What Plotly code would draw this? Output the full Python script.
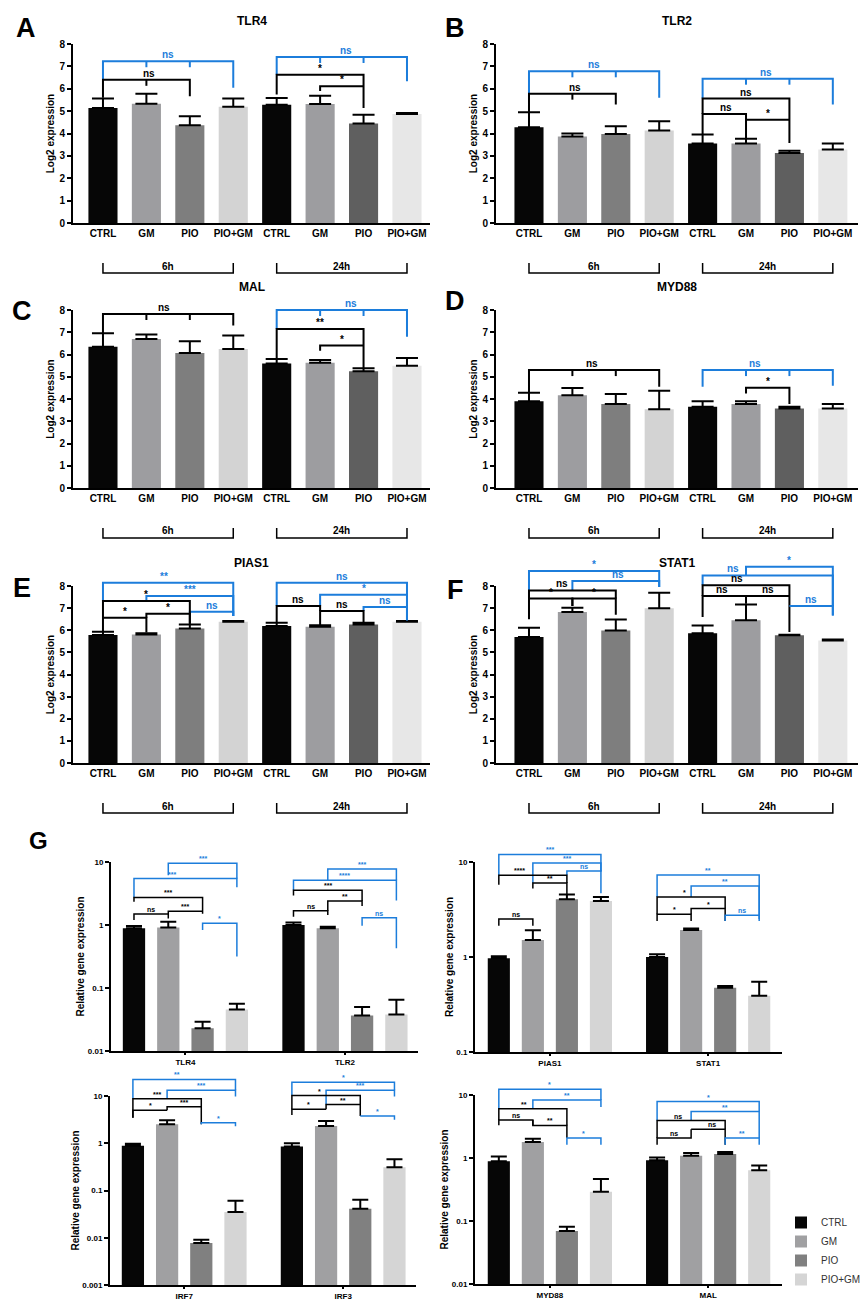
import plotly.graph_objects as go

W, H = 868, 1300
FONT = "Arial, 'Liberation Sans', sans-serif"
BLUE = "#1c7ddb"

treatments = ["CTRL", "GM", "PIO", "PIO+GM"]
timepoints = ["6h", "24h"]

# panels A-F: log2 expression, 4 treatments at 6h then 4 at 24h (mean, upper SD)
tlr4_log2 = [5.14, 5.33, 4.37, 5.19, 5.29, 5.32, 4.45, 4.87]
tlr4_sd = [0.42, 0.45, 0.40, 0.37, 0.30, 0.37, 0.39, 0.05]
tlr2_log2 = [4.28, 3.87, 3.98, 4.13, 3.55, 3.55, 3.13, 3.28]
tlr2_sd = [0.67, 0.13, 0.34, 0.42, 0.40, 0.22, 0.10, 0.27]
mal_log2 = [6.35, 6.70, 6.07, 6.25, 5.60, 5.63, 5.25, 5.50]
mal_sd = [0.60, 0.20, 0.53, 0.60, 0.20, 0.12, 0.13, 0.34]
myd88_log2 = [3.90, 4.17, 3.77, 3.54, 3.65, 3.78, 3.57, 3.57]
myd88_sd = [0.38, 0.33, 0.45, 0.83, 0.25, 0.12, 0.08, 0.20]
pias1_log2 = [5.78, 5.81, 6.08, 6.38, 6.19, 6.16, 6.26, 6.38]
pias1_sd = [0.15, 0.05, 0.18, 0.04, 0.15, 0.07, 0.08, 0.04]
stat1_log2 = [5.69, 6.82, 5.99, 7.00, 5.87, 6.45, 5.77, 5.54]
stat1_sd = [0.42, 0.20, 0.50, 0.70, 0.35, 0.71, 0.03, 0.04]

# panel G: relative gene expression (mean, upper SD), CTRL / GM / PIO / PIO+GM
rel_tlr4 = [0.885, 0.91, 0.023, 0.0455]
rel_tlr4_sd = [0.075, 0.22, 0.006, 0.0105]
rel_tlr2 = [1.0, 0.885, 0.0366, 0.038]
rel_tlr2_sd = [0.10, 0.055, 0.0134, 0.027]
rel_pias1 = [0.97, 1.51, 4.05, 3.88]
rel_pias1_sd = [0.05, 0.40, 0.51, 0.40]
rel_stat1 = [1.0, 1.92, 0.475, 0.39]
rel_stat1_sd = [0.07, 0.08, 0.02, 0.16]
rel_irf7 = [0.88, 2.51, 0.0077, 0.035]
rel_irf7_sd = [0.10, 0.54, 0.0014, 0.026]
rel_irf3 = [0.85, 2.32, 0.041, 0.31]
rel_irf3_sd = [0.15, 0.63, 0.023, 0.15]
rel_myd88 = [0.886, 1.79, 0.0695, 0.29]
rel_myd88_sd = [0.174, 0.23, 0.0115, 0.176]
rel_mal = [0.92, 1.09, 1.16, 0.64]
rel_mal_sd = [0.10, 0.11, 0.08, 0.12]

time_colors = ["#060606", "#9d9da0", "#7e7e7e", "#d3d3d3",
               "#060606", "#9d9da0", "#5f5f5f", "#e7e7e7"]
g_colors = ["#060606", "#a0a0a2", "#808080", "#d5d5d5"]

# significance brackets: (colour, from, to, level, left end, right end, label, label x, mid ticks)
# levels in axis units (log10 for panel G)
brackets_a = [("b", 0, 3, 7.23, 6.4, 6.04, "ns", 1.5, [1, 2]),
              ("k", 0, 2, 6.4, 5.6, 5.66, "ns", 1.05, [1]),
              ("b", 4, 7, 7.42, 6.63, 6.33, "ns", 5.6, [5, 6]),
              ("k", 4, 6, 6.63, 5.74, 5.14, "*", 5.0, []),
              ("k", 5, 6, 6.11, 5.9, 6.11, "*", 5.5, [])]
brackets_b = [("b", 0, 3, 6.78, 5.78, 5.6, "ns", 1.5, [1, 2]),
              ("k", 0, 2, 5.78, 4.95, 5.3, "ns", 1.05, [1]),
              ("b", 4, 7, 6.45, 5.56, 5.3, "ns", 5.45, [5, 6]),
              ("k", 4, 6, 5.56, 4.87, 3.58, "ns", 5.0, []),
              ("k", 4, 5, 4.87, 3.95, 3.8, "ns", 4.55, []),
              ("k", 5, 6, 4.62, 4.62, 4.62, "*", 5.5, [])]
brackets_c = [("k", 0, 3, 7.82, 6.95, 7.3, "ns", 1.4, [1, 2]),
              ("b", 4, 7, 8.0, 7.15, 6.8, "ns", 5.7, [5, 6]),
              ("k", 4, 6, 7.15, 5.8, 5.38, "**", 5.0, []),
              ("k", 5, 6, 6.4, 6.17, 6.4, "*", 5.5, [])]
brackets_d = [("k", 0, 3, 5.3, 4.28, 4.55, "ns", 1.45, [1, 2]),
              ("b", 4, 7, 5.3, 4.55, 4.6, "ns", 5.2, [5, 6]),
              ("k", 5, 6, 4.5, 4.25, 3.77, "*", 5.5, [])]
brackets_e = [("b", 0, 3, 8.15, 7.32, 6.64, "**", 1.4, []),
              ("b", 1, 3, 7.55, 7.32, 6.64, "***", 2.0, []),
              ("b", 2, 3, 6.84, 6.75, 6.64, "ns", 2.5, []),
              ("k", 0, 2, 7.32, 6.57, 6.26, "*", 1.0, []),
              ("k", 0, 1, 6.57, 5.96, 5.9, "*", 0.5, []),
              ("k", 1, 2, 6.75, 6.57, 6.3, "*", 1.5, []),
              ("b", 4, 7, 8.15, 7.1, 6.45, "ns", 5.5, []),
              ("b", 5, 7, 7.6, 7.1, 6.45, "*", 6.0, []),
              ("b", 6, 7, 7.05, 6.87, 6.45, "ns", 6.5, []),
              ("k", 4, 5, 7.1, 6.34, 6.87, "ns", 4.5, []),
              ("k", 5, 6, 6.87, 6.23, 6.34, "ns", 5.5, [])]
brackets_f = [("b", 0, 3, 8.68, 7.8, 7.95, "*", 1.5, []),
              ("b", 1, 3, 8.23, 7.8, 7.95, "ns", 2.05, []),
              ("k", 0, 2, 7.8, 7.43, 7.43, "ns", 0.76, []),
              ("k", 0, 1, 7.43, 6.5, 7.1, "*", 0.5, []),
              ("k", 1, 2, 7.43, 7.1, 6.7, "*", 1.5, []),
              ("b", 5, 7, 8.87, 8.48, 6.67, "*", 6.0, []),
              ("b", 4, 7, 8.48, 8.03, 7.1, "ns", 4.7, []),
              ("k", 4, 6, 8.03, 7.55, 5.92, "ns", 4.8, []),
              ("k", 4, 5, 7.55, 6.6, 7.55, "ns", 4.45, []),
              ("k", 5, 6, 7.55, 7.2, 7.55, "ns", 5.5, []),
              ("b", 6, 7, 7.1, 7.1, 6.67, "ns", 6.5, [])]
brackets_g1 = [("b", 1, 3, 0.98, 0.79, 0.74, "***", 2.0, []),
               ("b", 0, 3, 0.737, 0.437, 0.6, "***", 1.1, []),
               ("k", 0, 2, 0.437, 0.37, 0.18, "***", 1.0, []),
               ("k", 1, 2, 0.22, 0.174, 0.22, "***", 1.5, []),
               ("k", 0, 1, 0.174, 0.08, 0.105, "ns", 0.5, []),
               ("b", 2, 3, 0.026, -0.08, -0.5, "*", 2.5, []),
               ("b", 5, 7, 0.89, 0.71, 0.71, "***", 6.0, []),
               ("b", 4, 7, 0.71, 0.55, 0.39, "****", 5.5, []),
               ("k", 4, 6, 0.55, 0.47, 0.38, "***", 5.0, []),
               ("k", 5, 6, 0.38, 0.226, 0.3, "**", 5.5, []),
               ("k", 4, 5, 0.226, 0.13, 0.16, "ns", 4.5, []),
               ("b", 6, 7, 0.116, -0.01, -0.37, "ns", 6.5, [])]
brackets_g2 = [("b", 0, 3, 1.08, 0.86, 0.9, "***", 1.5, []),
               ("b", 1, 3, 0.99, 0.78, 0.9, "***", 2.0, []),
               ("b", 2, 3, 0.905, 0.86, 0.67, "ns", 2.5, []),
               ("k", 0, 2, 0.86, 0.76, 0.78, "****", 0.6, []),
               ("k", 1, 2, 0.78, 0.72, 0.65, "**", 1.5, []),
               ("k", 0, 1, 0.4, 0.33, 0.33, "ns", 0.5, []),
               ("b", 4, 7, 0.863, 0.632, 0.4, "**", 5.5, []),
               ("b", 5, 7, 0.747, 0.632, 0.44, "**", 6.0, []),
               ("k", 4, 6, 0.632, 0.45, 0.51, "*", 4.8, []),
               ("k", 4, 5, 0.45, 0.38, 0.38, "*", 4.5, []),
               ("k", 5, 6, 0.51, 0.45, 0.38, "*", 5.5, []),
               ("b", 6, 7, 0.44, 0.38, 0.38, "ns", 6.5, [])]
brackets_g3 = [("b", 0, 3, 1.35, 0.94, 1.12, "**", 1.3, []),
               ("b", 1, 3, 1.12, 0.94, 0.99, "***", 2.0, []),
               ("k", 0, 2, 0.94, 0.54, 0.77, "***", 0.7, []),
               ("k", 1, 2, 0.77, 0.7, 0.4, "***", 1.5, []),
               ("k", 0, 1, 0.7, 0.54, 0.7, "*", 0.5, []),
               ("b", 2, 3, 0.435, 0.4, 0.36, "*", 2.5, []),
               ("b", 4, 7, 1.29, 1.01, 1.12, "*", 5.5, []),
               ("b", 5, 7, 1.12, 0.82, 0.99, "***", 6.0, []),
               ("k", 4, 6, 1.01, 0.72, 0.82, "*", 4.8, []),
               ("k", 5, 6, 0.82, 0.72, 0.575, "**", 5.5, []),
               ("k", 4, 5, 0.72, 0.6, 0.72, "*", 4.5, []),
               ("b", 6, 7, 0.575, 0.575, 0.5, "*", 6.5, [])]
brackets_g4 = [("b", 0, 3, 1.09, 0.78, 0.92, "*", 1.5, []),
               ("b", 1, 3, 0.92, 0.78, 0.81, "**", 2.0, []),
               ("k", 0, 2, 0.78, 0.605, 0.516, "**", 0.75, []),
               ("k", 0, 1, 0.605, 0.52, 0.516, "ns", 0.5, []),
               ("k", 1, 2, 0.516, 0.605, 0.316, "**", 1.5, []),
               ("b", 2, 3, 0.316, 0.21, 0.21, "*", 2.5, []),
               ("b", 4, 7, 0.895, 0.595, 0.737, "*", 5.5, []),
               ("b", 5, 7, 0.737, 0.595, 0.316, "**", 6.0, []),
               ("k", 4, 6, 0.595, 0.316, 0.458, "ns", 4.6, []),
               ("k", 4, 5, 0.316, 0.21, 0.458, "ns", 4.5, []),
               ("k", 5, 6, 0.458, 0.458, 0.21, "ns", 5.6, []),
               ("b", 6, 7, 0.316, 0.21, 0.21, "**", 6.5, [])]


def time_pos(i):
    return i


def group_pos(i):
    # second gene of a pair sits a bit further right
    return i + 0.65 if i >= 4 else i


left_col = dict(xpx=(65, 422), xrange=(-0.69, 7.53))
right_col = dict(xpx=(488, 850), xrange=(-0.76, 7.58))

panels_top = [
    dict(left_col, letter="A", gene="TLR4", mean=tlr4_log2, sd=tlr4_sd, ypx=(36, 215), br=brackets_a, lpos=(18, 20)),
    dict(right_col, letter="B", gene="TLR2", mean=tlr2_log2, sd=tlr2_sd, ypx=(36, 215), br=brackets_b, lpos=(447, 20)),
    dict(left_col, letter="C", gene="MAL", mean=mal_log2, sd=mal_sd, ypx=(302, 480), br=brackets_c, lpos=(14, 303)),
    dict(right_col, letter="D", gene="MYD88", mean=myd88_log2, sd=myd88_sd, ypx=(302, 480), br=brackets_d, lpos=(447, 293)),
    dict(left_col, letter="E", gene="PIAS1", mean=pias1_log2, sd=pias1_sd, ypx=(578, 755), br=brackets_e, lpos=(14, 580)),
    dict(right_col, letter="F", gene="STAT1", mean=stat1_log2, sd=stat1_sd, ypx=(578, 755), br=brackets_f, lpos=(447, 582)),
]
panels_g = [
    dict(xpx=(103, 410), xrange=(-0.67, 8.28), ypx=(854, 1043), yrange=(-2, 1),
         genes=["TLR4", "TLR2"], vals=[(rel_tlr4, rel_tlr4_sd), (rel_tlr2, rel_tlr2_sd)], br=brackets_g1),
    dict(xpx=(467, 774), xrange=(-0.7, 8.32), ypx=(854, 1044), yrange=(-1, 1),
         genes=["PIAS1", "STAT1"], vals=[(rel_pias1, rel_pias1_sd), (rel_stat1, rel_stat1_sd)], br=brackets_g2),
    dict(xpx=(102, 408), xrange=(-0.67, 8.28), ypx=(1088, 1277), yrange=(-3, 1),
         genes=["IRF7", "IRF3"], vals=[(rel_irf7, rel_irf7_sd), (rel_irf3, rel_irf3_sd)], br=brackets_g3),
    dict(xpx=(467, 774), xrange=(-0.7, 8.32), ypx=(1087, 1276), yrange=(-2, 1),
         genes=["MYD88", "MAL"], vals=[(rel_myd88, rel_myd88_sd), (rel_mal, rel_mal_sd)], br=brackets_g4),
]
for p in panels_top:
    p["yrange"] = (0, 8)
    p["pos"] = time_pos
for p in panels_g:
    p["pos"] = group_pos

fig = go.Figure()
shapes = []
annotations = []


def to_px(p, x, y):
    (x0, x1), (r0, r1) = p["xpx"], p["xrange"]
    (yt, yb), (s0, s1) = p["ypx"], p["yrange"]
    return (x0 + (x - r0) / (r1 - r0) * (x1 - x0),
            yb - (y - s0) / (s1 - s0) * (yb - yt))


def px(x):
    return x / W


def py(y):
    return 1 - y / H


def add_text(text, x, y, size, color="black", bold=True, xanchor="center", yanchor="middle"):
    annotations.append(dict(text=text, x=px(x), y=py(y), xref="paper", yref="paper",
                            xanchor=xanchor, yanchor=yanchor, showarrow=False,
                            font=dict(family=FONT, size=size, color=color, weight=700 if bold else 400)))


def add_path(points, color, width):
    path = "M" + " L".join("{:.5f},{:.5f}".format(px(a), py(b)) for a, b in points)
    shapes.append(dict(type="path", xref="paper", yref="paper", path=path,
                       line=dict(color=color, width=width)))


def add_bracket(p, spec, lw, size, tick):
    col, i0, i1, y, yl, yr, label, lx, mids = spec
    c = BLUE if col == "b" else "black"
    xa, ya = to_px(p, p["pos"](i0), y)
    xb, _ = to_px(p, p["pos"](i1), y)
    _, yla = to_px(p, 0, yl)
    _, yrb = to_px(p, 0, yr)
    add_path([(xa, yla), (xa, ya), (xb, ya), (xb, yrb)], c, lw)
    for m in mids:
        xm, _ = to_px(p, p["pos"](m), y)
        add_path([(xm, ya), (xm, ya + tick)], c, lw)
    xt, _ = to_px(p, p["pos"](lx), y)
    add_text(label, xt, ya + 1, size, c, yanchor="bottom")


axis_font = dict(family=FONT, size=10, color="black", weight=700)
layout_axes = {}

for k, p in enumerate(panels_top, start=1):
    xname = "x" if k == 1 else "x%d" % k
    yname = "y" if k == 1 else "y%d" % k
    fig.add_trace(go.Bar(
        x=[p["pos"](i) for i in range(8)], y=p["mean"], width=0.67,
        marker=dict(color=time_colors, line=dict(width=0)),
        error_y=dict(type="data", array=p["sd"], arrayminus=[0] * 8, symmetric=False,
                     color="black", thickness=2, width=11),
        xaxis=xname, yaxis=yname, showlegend=False, hoverinfo="skip"))
    layout_axes["xaxis" if k == 1 else "xaxis%d" % k] = dict(
        domain=[px(p["xpx"][0]), px(p["xpx"][1])], range=list(p["xrange"]), anchor=yname,
        tickvals=list(range(8)), ticktext=treatments * 2, ticks="", showline=True,
        linecolor="black", linewidth=2, showgrid=False, zeroline=False,
        tickfont=axis_font, automargin=False, fixedrange=True)
    layout_axes["yaxis" if k == 1 else "yaxis%d" % k] = dict(
        domain=[py(p["ypx"][1]), py(p["ypx"][0])], range=list(p["yrange"]), anchor=xname,
        dtick=1, ticks="outside", ticklen=4, tickwidth=2, tickcolor="black",
        showline=True, linecolor="black", linewidth=2, showgrid=False, zeroline=False,
        tickfont=axis_font, automargin=False, fixedrange=True,
        title=dict(text="Log2 expression", font=axis_font, standoff=3))
    # gene title and panel letter
    add_text(p["gene"], (p["xpx"][0] + p["xpx"][1]) / 2, p["ypx"][0] - 23, 12)
    add_text(p["letter"], p["lpos"][0], p["lpos"][1], 27)
    # 6h / 24h brackets under the axis
    ybr = p["ypx"][1] + 50
    for t, (i0, i1) in zip(timepoints, [(0, 3), (4, 7)]):
        xa, _ = to_px(p, i0, 0)
        xb, _ = to_px(p, i1, 0)
        add_path([(xa, ybr - 10), (xa, ybr), (xb, ybr), (xb, ybr - 10)], "black", 1.5)
        add_text(t, (xa + xb) / 2, ybr - 7, 10)
    for spec in p["br"]:
        add_bracket(p, spec, 2, 10, 6)

g_font = dict(family=FONT, size=8, color="black", weight=700)
for n, p in enumerate(panels_g):
    k = 7 + n
    xname, yname = "x%d" % k, "y%d" % k
    for j, name in enumerate(treatments):
        fig.add_trace(go.Bar(
            x=[p["pos"](j), p["pos"](j + 4)],
            y=[p["vals"][0][0][j], p["vals"][1][0][j]], width=0.65, name=name,
            marker=dict(color=g_colors[j], line=dict(width=0)),
            error_y=dict(type="data", array=[p["vals"][0][1][j], p["vals"][1][1][j]],
                         arrayminus=[0, 0], symmetric=False, color="black", thickness=2, width=8),
            xaxis=xname, yaxis=yname, legendgroup=name, showlegend=(n == 3), hoverinfo="skip"))
    lo, hi = p["yrange"]
    tv = [10 ** e for e in range(lo, hi + 1)]
    layout_axes["xaxis%d" % k] = dict(
        domain=[px(p["xpx"][0]), px(p["xpx"][1])], range=list(p["xrange"]), anchor=yname,
        tickvals=[p["pos"](1.5), p["pos"](5.5)], ticktext=p["genes"], ticks="outside", ticklen=2,
        tickwidth=1.5, tickcolor="black", showline=True, linecolor="black", linewidth=2,
        showgrid=False, zeroline=False, tickfont=g_font, automargin=False, fixedrange=True)
    layout_axes["yaxis%d" % k] = dict(
        domain=[py(p["ypx"][1]), py(p["ypx"][0])], type="log", range=[lo, hi], anchor=xname,
        tickvals=tv, ticktext=["{:g}".format(v) for v in tv], ticks="outside", ticklen=4,
        tickwidth=1.5, tickcolor="black", showline=True, linecolor="black", linewidth=2,
        showgrid=False, zeroline=False, tickfont=g_font, automargin=False, fixedrange=True,
        title=dict(text="Relative gene expression", font=dict(g_font, size=10), standoff=1))
    for spec in p["br"]:
        add_bracket(p, spec, 1.5, 7, 5)

add_text("G", 30, 832, 24)

fig.update_layout(
    width=W, height=H, margin=dict(l=0, r=0, t=0, b=0, autoexpand=False),
    paper_bgcolor="white", plot_bgcolor="white", barmode="overlay",
    font=dict(family=FONT, color="black"),
    shapes=shapes, annotations=annotations,
    legend=dict(x=px(773), y=py(1200), xanchor="left", yanchor="top", itemwidth=30,
                font=dict(family=FONT, size=10, color="#333333"), tracegroupgap=0,
                bgcolor="rgba(0,0,0,0)"),
    **layout_axes)

fig.write_html("out.html")
